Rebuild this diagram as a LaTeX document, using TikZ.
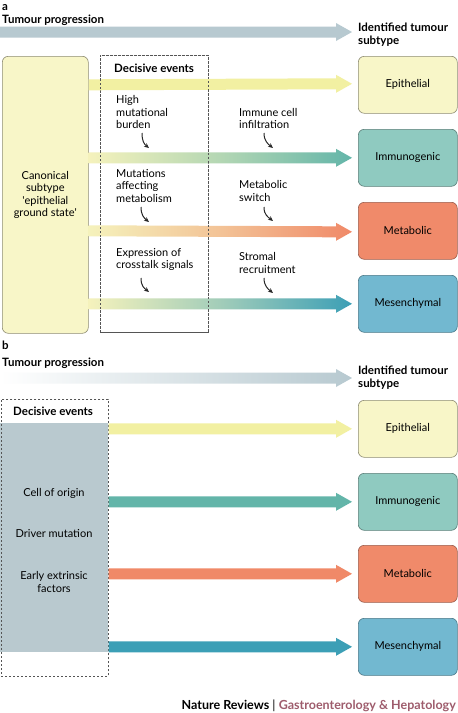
\documentclass[tikz,border=0pt]{standalone}
\usepackage{fontspec}
\setmainfont{Lato}
\usetikzlibrary{calc,arrows.meta}
\definecolor{prog}{HTML}{B7C9D0}
\definecolor{epfill}{HTML}{F8F6C8}
\definecolor{epline}{HTML}{8E8C72}
\definecolor{imfill}{HTML}{8FCAC0}
\definecolor{imline}{HTML}{5A7E78}
\definecolor{mefill}{HTML}{F08A6A}
\definecolor{meline}{HTML}{9A5C4C}
\definecolor{msfill}{HTML}{72B8D0}
\definecolor{msline}{HTML}{4A7888}
\definecolor{arrY}{HTML}{F2F0A2}
\definecolor{arrYl}{HTML}{F5F2BC}
\definecolor{arrT}{HTML}{63B5A9}
\definecolor{arrO}{HTML}{F08968}
\definecolor{arrB}{HTML}{3C9FB6}
\definecolor{grayfill}{HTML}{B9C9CF}
\definecolor{dashcol}{HTML}{555555}
\definecolor{journal}{HTML}{9E5C6C}
\newcommand\fatarrow[3]{%
  \path[#3] ($(#1)+(0,-5.5)$) -- ($(#2)+(-16,-5.5)$) -- ($(#2)+(-16,-9)$) -- (#2)
    -- ($(#2)+(-16,9)$) -- ($(#2)+(-16,5.5)$) -- ($(#1)+(0,5.5)$) -- cycle;}
\begin{document}
\begin{tikzpicture}[x=1pt,y=-1pt,
  font=\fontsize{11}{12.5}\selectfont,
  subtype/.style={draw, rounded corners=6pt, minimum width=99pt, minimum height=57pt,
    line width=0.6pt, anchor=north west, inner sep=0pt},
  title/.style={font=\fontsize{11.5}{13.5}\selectfont\bfseries, anchor=west, inner sep=0pt},
  label/.style={align=left, anchor=west, inner sep=0pt},
  smallarr/.style={-{Stealth[length=5pt,width=4.5pt]}, line width=1pt, black!85},
  dashbox/.style={draw=dashcol, dashed, dash pattern=on 2pt off 2pt, line width=0.6pt}
]
\useasboundingbox (0,0) rectangle (458,713);
\fill[white] (0,0) rectangle (458,713);

% ---------------- panel a ----------------
\node[title] (la) at (2,8) {a};
\node[title] (tpa) at (2,20) {Tumour progression};
\node[title, align=left] (ita) at (358,34.5) {Identified tumour\\subtype};
\coordinate (pa0) at (0,32);
\coordinate (pa1) at (352,32);
\fatarrow{pa0}{pa1}{fill=prog}

\node[draw=epline, fill=epfill, rounded corners=6pt, line width=0.6pt, minimum width=86pt,
  minimum height=277pt, anchor=north west, inner sep=0pt, align=center] (canon) at (2,56)
  {Canonical\\subtype\\\textquotesingle epithelial\\ground state\textquotesingle};
\node[dashbox, minimum width=108pt, minimum height=277pt, anchor=north west, inner sep=0pt] (deca) at (100,55) {};
\node[title] (dea) at (114,68) {Decisive events};

\node[subtype, fill=epfill, draw=epline] (epA) at (358,56) {Epithelial};
\node[subtype, fill=imfill, draw=imline] (imA) at (358,129) {Immunogenic};
\node[subtype, fill=mefill, draw=meline] (meA) at (358,202) {Metabolic};
\node[subtype, fill=msfill, draw=msline] (msA) at (358,275) {Mesenchymal};

\coordinate (a1s) at (canon.east |- epA.west);
\coordinate (a2s) at (canon.east |- imA.west);
\coordinate (a3s) at (canon.east |- meA.west);
\coordinate (a4s) at (canon.east |- msA.west);
\coordinate (a1e) at ($(epA.west)+(-6,-1)$);
\coordinate (a2e) at ($(imA.west)+(-6,0)$);
\coordinate (a3e) at ($(meA.west)+(-6,1)$);
\coordinate (a4e) at ($(msA.west)+(-6,0)$);
\fatarrow{a1s}{a1e}{fill=arrY}
\fatarrow{a2s}{a2e}{left color=arrYl, right color=arrT, middle color=arrT!45!arrYl}
\fatarrow{a3s}{a3e}{left color=arrYl, right color=arrO, middle color=arrO!45!arrYl}
\fatarrow{a4s}{a4e}{left color=arrYl, right color=arrB, middle color=arrB!45!arrYl}
\draw[dashbox] (deca.north west) rectangle (deca.south east);

\node[label] (hm) at (116,112) {High\\mutational\\burden};
\node[label] (mam) at (116,186) {Mutations\\affecting\\metabolism};
\node[label] (ecs) at (116,259.5) {Expression of\\crosstalk signals};
\node[label] (ici) at (239,118.5) {Immune cell\\infiltration};
\node[label] (ms) at (239,191) {Metabolic\\switch};
\node[label] (sr) at (239,263) {Stromal\\recruitment};

\coordinate (s1) at (142,133); \coordinate (e1) at (149,148);
\coordinate (s2) at (141,207); \coordinate (e2) at (149,222);
\coordinate (s3) at (141,278); \coordinate (e3) at (149,292);
\coordinate (s4) at (264,133); \coordinate (e4) at (273,148);
\coordinate (s5) at (264,207); \coordinate (e5) at (273,221);
\coordinate (s6) at (264,278); \coordinate (e6) at (273,293);
\foreach \i in {1,...,6}{
  \draw[smallarr] (s\i) .. controls ($(s\i)+(0,8)$) and ($(e\i)+(-5,-4)$) .. (e\i);
}

% ---------------- panel b ----------------
\node[title] (lb) at (2,345) {b};
\node[title] (tpb) at (2,363) {Tumour progression};
\node[title, align=left] (itb) at (358,377.5) {Identified tumour\\subtype};
\coordinate (pb0) at (0,378);
\coordinate (pb1) at (352,378);
\fatarrow{pb0}{pb1}{left color=white, right color=prog}

\fill[grayfill] (0,423) rectangle (108,652);
\node[dashbox, minimum width=107pt, minimum height=277pt, anchor=north west, inner sep=0pt] (decb) at (1,399) {};
\node[title] (deb) at (13,411) {Decisive events};
\node[align=center, inner sep=0pt] (coo) at (54,493) {Cell of origin};
\node[align=center, inner sep=0pt] (drv) at (54,534) {Driver mutation};
\node[align=center, inner sep=0pt] (eef) at (54,582) {Early extrinsic\\factors};

\node[subtype, fill=epfill, draw=epline] (epB) at (358,400) {Epithelial};
\node[subtype, fill=imfill, draw=imline] (imB) at (358,473) {Immunogenic};
\node[subtype, fill=mefill, draw=meline] (meB) at (358,545) {Metabolic};
\node[subtype, fill=msfill, draw=msline] (msB) at (358,618) {Mesenchymal};

\coordinate (b1s) at (decb.east |- epB.west);
\coordinate (b2s) at (decb.east |- imB.west);
\coordinate (b3s) at (decb.east |- meB.west);
\coordinate (b4s) at (decb.east |- msB.west);
\coordinate (b1e) at ($(epB.west)+(-6,0)$);
\coordinate (b2e) at ($(imB.west)+(-6,0)$);
\coordinate (b3e) at ($(meB.west)+(-6,0)$);
\coordinate (b4e) at ($(msB.west)+(-6,0)$);
\fatarrow{b1s}{b1e}{fill=arrY}
\fatarrow{b2s}{b2e}{fill=arrT}
\fatarrow{b3s}{b3e}{fill=arrO}
\fatarrow{b4s}{b4e}{fill=arrB}

\node[anchor=base east, inner sep=0pt, font=\fontsize{12.5}{14}\selectfont] (foot) at (456,709)
  {\textbf{Nature Reviews} | \textcolor{journal}{\bfseries Gastroenterology \& Hepatology}};
\end{tikzpicture}
\end{document}
